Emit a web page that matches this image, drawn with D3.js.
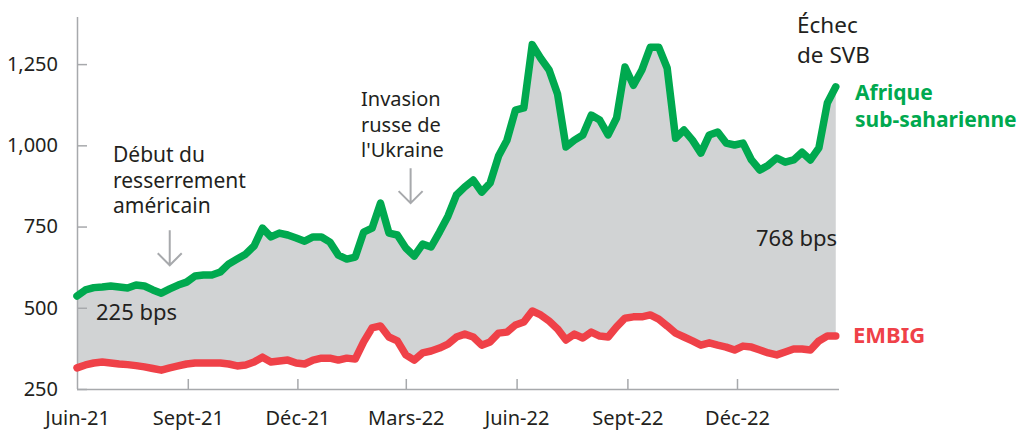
<!DOCTYPE html>
<html>
<head>
<meta charset="utf-8">
<script src="https://cdn.jsdelivr.net/npm/d3@7"></script>
<style>
  body { margin: 0; background: #fff; }
  text { font-family: "Noto Sans", sans-serif; fill: #231f20; }
</style>
</head>
<body>
<svg id="chart" width="1025" height="432"></svg>
<script>
// weekly spreads (bps), starting 1 June 2021
const startDate = new Date(2021, 5, 1)

const ssa = [536, 555, 562, 564, 567, 564, 561, 570, 567, 555,
             545, 558, 570, 579, 598, 601, 601, 610, 635, 650,
             665, 690, 745, 718, 730, 724, 715, 705, 718, 718,
             702, 662, 650, 656, 733, 745, 822, 730, 724, 684,
             659, 696, 687, 733, 782, 847, 872, 893, 856, 884,
             967, 1016, 1108, 1115, 1310, 1268, 1232, 1158, 995, 1016,
             1032, 1093, 1078, 1032, 1084, 1241, 1185, 1232, 1302, 1302,
             1238, 1022, 1047, 1016, 976, 1032, 1041, 1007, 1001, 1007,
             955, 924, 939, 961, 948, 955, 979, 955, 992, 1130,
             1180]

const embig = [315, 324, 330, 333, 330, 327, 325, 322, 318, 313,
               308, 315, 321, 327, 330, 330, 330, 330, 327, 321,
               324, 333, 348, 333, 336, 339, 330, 327, 339, 345,
               345, 339, 345, 342, 395, 438, 444, 410, 398, 355,
               339, 361, 367, 376, 388, 410, 419, 410, 385, 395,
               422, 425, 447, 456, 490, 478, 459, 435, 401, 419,
               407, 425, 413, 410, 441, 468, 472, 472, 478, 465,
               444, 422, 410, 398, 385, 392, 385, 379, 370, 382,
               379, 370, 361, 355, 364, 373, 373, 370, 398, 413,
               413]

const tickDates = ["2021-06-01", "2021-09-01", "2021-12-01", "2022-03-01", "2022-06-01", "2022-09-01", "2022-12-01"]
const tickLabels = ["Juin-21", "Sept-21", "Déc-21", "Mars-22", "Juin-22", "Sept-22", "Déc-22"]
const yTicks = [250, 500, 750, 1000, 1250]

const parse = d3.timeParse("%Y-%m-%d")
const dates = ssa.map((d, i) => d3.timeDay.offset(startDate, 7 * i))
const data = dates.map((d, i) => ({ date: d, ssa: ssa[i], embig: embig[i] }))

const green = "#00a94f"
const red = "#ef4148"
const grey = "#a7a9ac"

const svg = d3.select("#chart")

//scales
const x = d3.scaleTime()
    .domain([parse("2021-06-01"), parse("2022-12-01")])
    .range([77, 737])

const y = d3.scaleLinear()
    .domain([250, 1395])
    .range([389, 17])

//gray band between the two spreads
svg.append("path")
    .datum(data)
    .attr("fill", "#d1d3d4")
    .attr("d", d3.area()
        .x(d => x(d.date))
        .y0(d => y(d.embig))
        .y1(d => y(d.ssa)))

//y axis
const yAxis = svg.append("g")
    .attr("transform", "translate(77,0)")
    .call(d3.axisLeft(y).tickValues(yTicks).tickFormat(d3.format(",")).tickSize(-10).tickPadding(19))
yAxis.select(".domain").attr("stroke", grey).attr("stroke-width", 1.5).attr("d", "M0.5,17V389")
yAxis.selectAll(".tick line").attr("stroke", grey).attr("stroke-width", 1.5)
yAxis.selectAll(".tick text").style("font-size", "20px").attr("fill", "#231f20")

//x axis
const xAxis = svg.append("g")
    .attr("transform", "translate(0,389)")
    .call(d3.axisBottom(x)
        .tickValues(tickDates.map(parse))
        .tickFormat((d, i) => tickLabels[i])
        .tickSize(-10)
        .tickPadding(22))
xAxis.select(".domain").attr("stroke", grey).attr("stroke-width", 1.5).attr("d", "M77,0.5H839")
xAxis.selectAll(".tick line").attr("stroke", grey).attr("stroke-width", 1.5)
    .filter((d, i) => i === 0).remove()
xAxis.selectAll(".tick text").style("font-size", "20px").attr("fill", "#231f20")

//lines
const line = key => d3.line().x(d => x(d.date)).y(d => y(d[key]))

svg.append("path")
    .datum(data)
    .attr("fill", "none")
    .attr("stroke", red)
    .attr("stroke-width", 7.5)
    .attr("stroke-linejoin", "round")
    .attr("stroke-linecap", "round")
    .attr("d", line("embig"))

svg.append("path")
    .datum(data)
    .attr("fill", "none")
    .attr("stroke", green)
    .attr("stroke-width", 7.5)
    .attr("stroke-linejoin", "round")
    .attr("stroke-linecap", "round")
    .attr("d", line("ssa"))

//annotations
function addLines(xPos, baseline, lines, size, step, opts = {}) {
    const t = svg.append("text")
        .attr("x", xPos)
        .attr("y", baseline)
        .style("font-size", size + "px")
    if (opts.bold) t.style("font-weight", "bold")
    if (opts.color) t.style("fill", opts.color)
    lines.forEach((l, i) => {
        t.append("tspan").attr("x", xPos).attr("y", baseline + i * step).text(l)
    })
}

function addArrow(date, tipValue, len) {
    const ax = x(parse(date))
    const ay = y(tipValue)
    svg.append("path")
        .attr("fill", "none")
        .attr("stroke", grey)
        .attr("stroke-width", 2)
        .attr("d", `M${ax},${ay - len}V${ay}M${ax - 12},${ay - 12}L${ax},${ay}L${ax + 12},${ay - 12}`)
}

addLines(113, 162, ["Début du", "resserrement", "américain"], 21, 25.5)
addArrow("2021-08-17", 631, 35)

addLines(361, 106, ["Invasion", "russe de", "l'Ukraine"], 20, 25.5)
addArrow("2022-03-05", 822, 35)

addLines(797, 33, ["Échec", "de SVB"], 22.5, 30)

addLines(96, 320, ["225 bps"], 22, 0)
addLines(756, 246, ["768 bps"], 22, 0)

addLines(855, 100, ["Afrique", "sub-saharienne"], 21, 27, { bold: true, color: green })
addLines(853, 343, ["EMBIG"], 22, 0, { bold: true, color: red })
</script>
</body>
</html>
